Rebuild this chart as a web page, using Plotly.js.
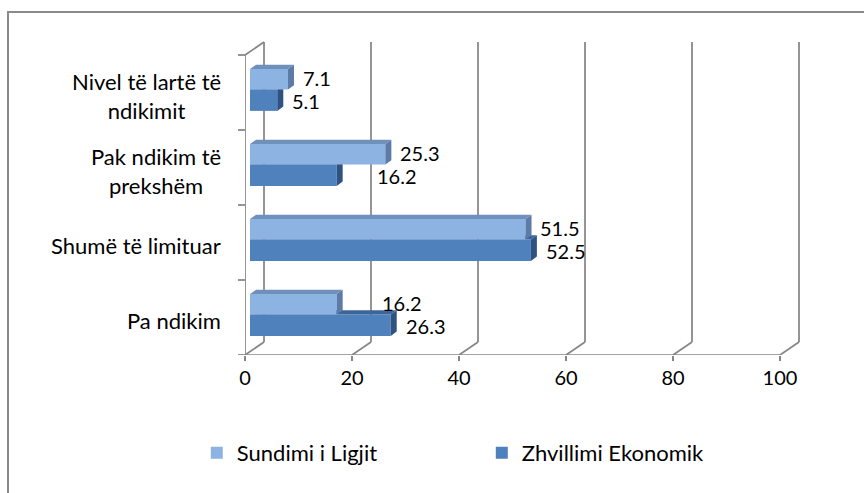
<!DOCTYPE html>
<html>
<head>
<meta charset="utf-8">
<script src="https://cdn.plot.ly/plotly-3.0.1.min.js"></script>
<style>
  body { margin: 0; background: #fff; }
  #chart { width: 864px; height: 493px; }
  #frame {
    position: absolute; left: 7px; top: 11px; width: 1000px; height: 600px;
    border-top: 2px solid #8a8a8a; border-left: 2px solid #8a8a8a;
    pointer-events: none;
  }
</style>
</head>
<body>
<div id="chart"></div>
<div id="frame"></div>
<script>
// Categories bottom to top, as the axis is numeric (0 = lowest row)
const categories = ['Pa ndikim', 'Shumë të limituar', 'Pak ndikim të<br>prekshëm', 'Nivel të lartë të<br>ndikimit'];
const seriesNames = ['Sundimi i Ligjit', 'Zhvillimi Ekonomik'];
const sundimi = [16.2, 51.5, 25.3, 7.1];
const zhvillimi = [26.3, 52.5, 16.2, 5.1];
const xTicks = [0, 20, 40, 60, 80, 100];

// plot area geometry
const M = {l: 245, r: 52, t: 40, b: 138};
const plotW = 864 - M.l - M.r;
const plotH = 493 - M.t - M.b;
const XMAX = 105.98;
const YMIN = -0.5, YMAX = 3.7;
const pxX = plotW / XMAX;
const pxY = plotH / (YMAX - YMIN);

// 3D depth offsets (wall depth, bar shift, bar depth), in axis units
const DX = 19 / pxX, DY = 13 / pxY;
const SX = 5 / pxX;
const BX = 6 / pxX, BY = 4.3 / pxY;

const GRID = 'rgb(134,134,134)';
const FONT = 'Lato, "Open Sans", sans-serif';

// rows inside each category band
const lightRow = [0.04, 0.313];
const darkRow = [-0.245, 0.04];

function frontBar(vals, row, name, color, xa, ya, rank) {
    return {
        type: 'bar',
        orientation: 'h',
        name: name,
        x: vals,
        y: vals.map((v, i) => i + (row[0] + row[1]) / 2),
        width: row[1] - row[0],
        base: SX,
        marker: {color: color, line: {width: 0}},
        xaxis: xa, yaxis: ya,
        legendrank: rank,
        hoverinfo: 'skip'
    };
}

// side and top faces of the extruded bars
function faces(vals, row, sideColor, topColor, xa, ya) {
    const side = {x: [], y: []}, top = {x: [], y: []};
    vals.forEach((v, i) => {
        const a = SX, b = SX + v, lo = i + row[0], hi = i + row[1];
        side.x.push(b, b, b + BX, b + BX, b, null);
        side.y.push(lo, hi, hi + BY, lo + BY, lo, null);
        top.x.push(a, b, b + BX, a + BX, a, null);
        top.y.push(hi, hi, hi + BY, hi + BY, hi, null);
    });
    const base = {type: 'scatter', mode: 'lines', fill: 'toself', line: {width: 0},
                  showlegend: false, hoverinfo: 'skip', xaxis: xa, yaxis: ya};
    return [
        Object.assign({}, base, side, {fillcolor: sideColor}),
        Object.assign({}, base, top, {fillcolor: topColor})
    ];
}

const data = [
    frontBar(zhvillimi, darkRow, seriesNames[1], '#4f81bd', 'x', 'y', 2),
    ...faces(zhvillimi, darkRow, '#2e5282', '#3c659b', 'x', 'y'),
    frontBar(sundimi, lightRow, seriesNames[0], '#8db3e2', 'x2', 'y2', 1),
    ...faces(sundimi, lightRow, '#5c7ba6', '#7090bc', 'x2', 'y2')
];

// walls, floor and back gridlines
const shapes = [];
const line = (x0, y0, x1, y1) => ({type: 'line', xref: 'x', yref: 'y', x0, y0, x1, y1,
                                   layer: 'below', line: {color: GRID, width: 1.75}});
xTicks.forEach(t => {
    shapes.push(line(t + DX, -0.5 + DY, t + DX, 3.5 + DY));
    shapes.push(line(t, -0.5, t + DX, -0.5 + DY));
});
shapes.push(line(0, -0.5, 100, -0.5));
shapes.push(line(0, -0.5, 0, 3.5));
shapes.push(line(0, 3.5, DX, 3.5 + DY));
for (let k = 0; k <= categories.length; k++) {
    shapes.push({type: 'line', xref: 'paper', xsizemode: 'pixel', xanchor: 0, x0: -7, x1: 0,
                 yref: 'y', y0: k - 0.5, y1: k - 0.5, line: {color: GRID, width: 1.75}});
}

// category labels (centred lines) and value labels
const annotations = [];
categories.forEach((c, i) => {
    annotations.push({xref: 'paper', x: 0, xanchor: 'right', xshift: -22, yref: 'y', y: i - 0.04,
                      text: c, align: 'center', showarrow: false, font: {size: 22, color: '#000'}});
});
function labelX(v, other) {
    return other - v > 5 ? SX + other - 2 : SX + v + BX + 1.3;
}
sundimi.forEach((v, i) => {
    annotations.push({x: labelX(v, zhvillimi[i]), y: i + (lightRow[0] + lightRow[1]) / 2 + 0.015,
                      xanchor: 'left', height: 18, text: v.toFixed(1), showarrow: false,
                      font: {size: 20, color: '#000'}});
});
zhvillimi.forEach((v, i) => {
    annotations.push({x: labelX(v, sundimi[i]), y: i + (darkRow[0] + darkRow[1]) / 2 - 0.005,
                      xanchor: 'left', height: 18, text: v.toFixed(1), showarrow: false,
                      font: {size: 20, color: '#000'}});
});

const layout = {
    width: 864,
    height: 493,
    margin: M,
    paper_bgcolor: '#fff',
    plot_bgcolor: 'rgba(0,0,0,0)',
    font: {family: FONT, color: '#000', size: 20},
    barmode: 'overlay',
    showlegend: true,
    xaxis: {
        range: [0, XMAX],
        tickvals: xTicks,
        ticks: 'outside', ticklen: 5, tickwidth: 1.75, tickcolor: GRID,
        showgrid: false, zeroline: false, showline: false,
        tickfont: {size: 20, color: '#000'},
        fixedrange: true
    },
    yaxis: {
        range: [YMIN, YMAX],
        showticklabels: false, showgrid: false, zeroline: false, ticks: '',
        fixedrange: true
    },
    xaxis2: {overlaying: 'x', range: [0, XMAX], visible: false, fixedrange: true},
    yaxis2: {overlaying: 'y', range: [YMIN, YMAX], visible: false, fixedrange: true},
    legend: {
        orientation: 'h',
        x: -0.085, xanchor: 'left',
        y: -0.311, yanchor: 'middle',
        entrywidth: 240, entrywidthmode: 'pixels',
        font: {size: 22, color: '#000'},
        bgcolor: 'rgba(0,0,0,0)'
    },
    shapes: shapes,
    annotations: annotations
};

Plotly.newPlot('chart', data, layout, {displayModeBar: false, staticPlot: true});
</script>
</body>
</html>
